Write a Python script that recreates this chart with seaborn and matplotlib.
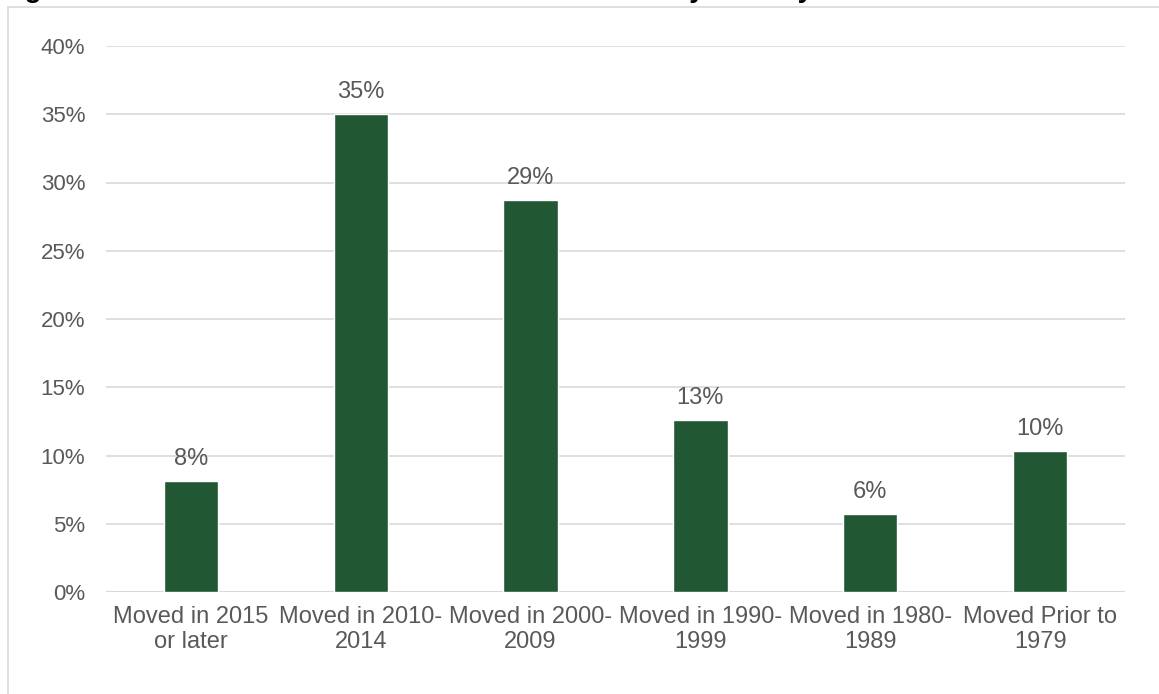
import matplotlib
matplotlib.use("Agg")
import matplotlib.pyplot as plt
from matplotlib.patches import Rectangle
from matplotlib.ticker import FuncFormatter
import seaborn as sns
import pandas as pd

categories = [
    "Moved in 2015\nor later",
    "Moved in 2010-\n2014",
    "Moved in 2000-\n2009",
    "Moved in 1990-\n1999",
    "Moved in 1980-\n1989",
    "Moved Prior to\n1979",
]
shares = [8.1, 35.0, 28.7, 12.6, 5.7, 10.3]
y_ticks = [0, 5, 10, 15, 20, 25, 30, 35, 40]
title = "Figure 5: Year that the Resident Moved into the Study Area by Tenure"

BAR = "#215732"
TEXT = "#595959"
GRID = "#D9D9D9"

sns.set_theme(style="white")
plt.rcParams["font.family"] = ["Liberation Sans", "DejaVu Sans"]

df = pd.DataFrame({"period": categories, "share": shares})

fig = plt.figure(figsize=(11.59, 6.94), dpi=100)
W, H = 1159, 694
ax = fig.add_axes([106 / W, 1 - 592 / H, (1125 - 106) / W, (592 - 46) / H])

sns.barplot(data=df, x="period", y="share", color=BAR, saturation=1,
            width=0.32, ax=ax)

ax.set_ylim(0, 40)
ax.set_yticks(y_ticks)
ax.yaxis.set_major_formatter(FuncFormatter(lambda v, _: f"{v:.0f}%"))
ax.grid(axis="y", color=GRID, linewidth=1.2)
ax.set_axisbelow(True)
for s in ax.spines.values():
    s.set_visible(False)
ax.axhline(0, color=GRID, linewidth=1.5, zorder=0.5)
ax.set_xlabel("")
ax.set_ylabel("")
ax.tick_params(axis="y", length=0, pad=15, labelsize=16, labelcolor=TEXT)
ax.tick_params(axis="x", length=0, pad=10, labelsize=17, labelcolor=TEXT)
for lbl in ax.get_xticklabels():
    lbl.set_multialignment("center")
    lbl.set_linespacing(1.2)

for patch, v in zip(ax.patches, shares):
    ax.annotate(f"{v:.0f}%", (patch.get_x() + patch.get_width() / 2, v),
                xytext=(0, 8), textcoords="offset points",
                ha="center", va="bottom", fontsize=17, color=TEXT)

# outer chart frame
fig.patches.append(Rectangle((8 / W, -0.05), 1.2, 1 - 7 / H + 0.05,
                             transform=fig.transFigure, fill=False,
                             edgecolor=GRID, linewidth=1.2))

# chart heading, running off the top edge
fig.text(0 / W, 1 + 3 / H, title, ha="left", va="baseline",
         fontsize=20, fontweight="bold", color="black")

fig.savefig("out.png", dpi=100)
